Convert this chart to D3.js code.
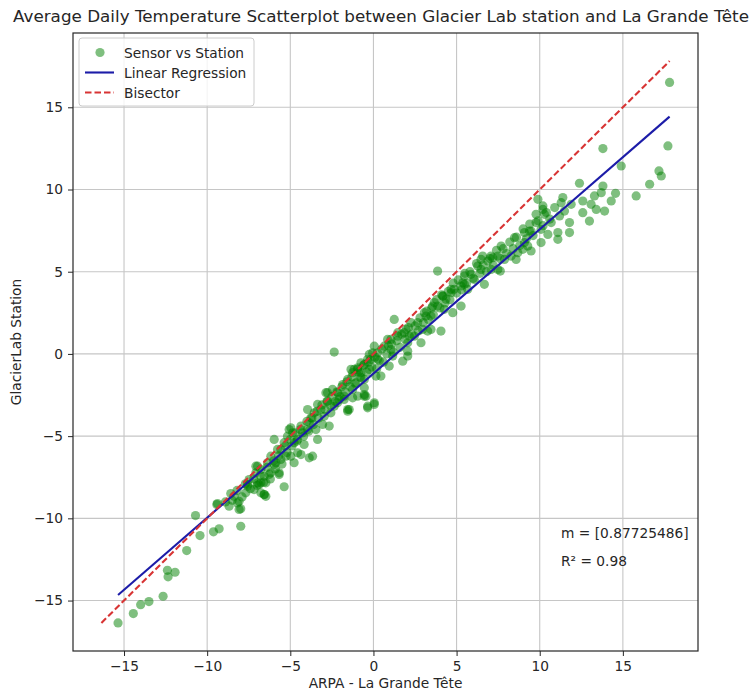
<!DOCTYPE html>
<html>
<head>
<meta charset="utf-8">
<script src="https://cdn.jsdelivr.net/npm/d3@7"></script>
<style>
  html, body { margin: 0; padding: 0; background: #fff; }
  svg { display: block; font-family: "DejaVu Sans", sans-serif; }
</style>
</head>
<body>
<div id="chart"></div>
<script>
// ARPA - La Grande Tête (x) vs GlacierLab station (y), daily means
const arpa = [
  -15.36, -14.44, -14.0, -13.5, -12.65, -12.39, -12.35, -11.93, -11.23, -10.43,
  -9.62, -9.28, -7.98, -10.70, -9.42, -8.68, -8.08, -8.58, -8.18, -7.68,
  -7.18, -6.57, -5.37, -6.88, -6.47, -7.57, -7.98, -6.77, -6.57, -6.27,
  -5.67, -7.07, -5.97, -4.97, -4.36, -4.77, -5.57, -3.86, -9.38, -8.08,
  -7.57, -6.97, -6.77, -6.47, -6.97, -6.57, -6.17, -5.87, -5.67, -5.97,
  -5.57, -5.27, -5.07, -4.77, -4.56, -4.26, -4.17, -3.66, -3.96, -3.86,
  -3.46, -3.36, -3.36, -2.96, -2.86, -2.66, -2.46, -2.36, -2.06, -1.85,
  -1.55, -1.25, -1.05, -0.95, -0.55, -0.35, 0.05, -0.75, -0.55, -0.15,
  0.15, -2.36, -1.76, -1.46, -1.25, -0.55, -0.35, 0.05, -1.16, -0.55,
  0.45, 0.95, 1.76, 2.06, 2.86, 1.05, 0.25, -0.35, -0.05, 1.46,
  3.26, 4.06, 2.16, -4.97, -2.76, -2.16, -1.55, -1.35, -0.75, -0.45,
  1.25, 1.85, 2.06, 3.06, 3.56, 3.86, 4.17, 4.67, 5.27, 5.47,
  5.87, 6.67, 6.47, 7.07, 7.48, -0.95, 0.05, 0.85, 1.16, 2.26,
  2.46, 3.16, 3.46, 3.86, 4.36, 4.77, 4.67, 5.37, 5.67, 6.27,
  6.57, 7.18, 7.68, 7.63, 7.88, 8.48, 8.58, 8.98, 9.08, 9.48,
  9.78, 9.89, 10.19, 10.08, 9.48, 17.81, 17.71, 13.80, 14.90, 17.17,
  17.31, 16.61, 15.80, 14.56, 14.30, 13.80, 13.70, 13.29, 13.09, 13.40,
  13.90, 12.99, 12.59, 12.59, 12.39, 11.89, 11.39, 11.29, 11.19, 11.49,
  11.79, 11.09, 11.09, 10.19, 10.28, 9.78, 10.08, 9.38, 9.08, 10.49,
  11.79, 10.69, -8.38, -7.48, -7.07, -6.77, -6.37, -6.17, -5.77, -5.37,
  -5.17, -4.86, -4.56, -4.36, -3.96, -3.76, -3.56, -3.16, -3.06, -2.76,
  -2.56, -2.16, -1.76, -1.55, -1.25, -0.95, -0.55, -0.25, -0.75, -0.25,
  0.25, 0.65, 1.05, 1.46, 1.96, 2.06, 2.66, 2.96, 3.46, 3.66,
  4.17, 4.26, 4.86, 5.27, 5.47, 6.07, 6.47, 6.88, 7.07, 7.48,
  8.28, 8.68, 9.28,
  -8.9, -8.5, -8.2, -7.9, -7.7, -7.4, -7.2, -7.0, -6.8, -6.6,
  -6.4, -6.2, -6.0, -5.9, -5.7, -5.5, -5.3, -5.2, -5.0, -4.9,
  -4.7, -4.6, -4.4, -4.2, -4.0, -3.9, -3.7, -3.6, -3.4, -3.3,
  -3.1, -2.9, -2.8, -2.6, -2.5, -2.3, -2.2, -2.0, -1.9, -1.7,
  -1.6, -1.4, -1.3, -1.1, -0.9, -0.8, -0.6, -0.4, -0.3, -0.1,
  0.1, 0.2, 0.35, 0.5, 0.6, 0.8, 0.9, 1.1, 1.2, 1.4,
  1.6, 1.7, 1.9, 2.1, 2.3, 2.5, 2.7, 2.8, 3.0, 3.2,
  3.3, 3.5, 3.6, 3.8, 4.0, 4.1, 4.3, 4.5, 4.6, 4.8,
  5.0, 5.1, 5.3, 5.5, 5.6, 5.8, 6.0, 6.2, 6.4, 6.6,
  6.8, 7.0, 7.2, 7.4, 7.6, 7.8, 8.0, 8.2, 8.4, 8.6,
  8.8, 9.0, 9.2, 9.4, 9.6, 9.9, 10.2, 10.4, 10.6, 10.9
];
const station = [
  -16.36, -15.79, -15.25, -15.06, -14.74, -13.16, -13.56, -13.28, -11.96, -11.05,
  -10.82, -10.64, -10.48, -9.83, -9.16, -9.26, -9.46, -8.49, -9.06, -8.45,
  -8.25, -8.55, -8.08, -7.94, -7.84, -7.94, -9.42, -7.84, -8.55, -7.33,
  -7.23, -6.83, -6.73, -6.22, -6.12, -6.62, -6.42, -6.32, -9.10, -8.96,
  -8.05, -7.84, -8.45, -8.66, -6.83, -7.44, -7.23, -6.62, -7.33, -5.20,
  -5.81, -6.22, -4.60, -5.40, -6.01, -4.80, -5.51, -6.22, -3.38, -4.19,
  -4.60, -5.20, -3.07, -3.79, -2.36, -4.39, -2.16, -3.18, -2.77, -1.86,
  -3.38, -1.14, -1.75, -2.57, -2.47, -3.18, -2.97, -1.14, -0.64, -0.33,
  -1.35, 0.11, -2.77, -3.38, -2.67, -2.57, -3.28, -3.07, -0.94, -2.06,
  -1.35, -0.74, -0.44, 0.17, 0.68, 0.88, -0.33, -0.33, 0.07, 1.29,
  1.39, 1.39, 1.08, -4.49, -2.36, -2.97, -3.48, -0.94, -1.45, -2.57,
  2.10, 1.29, -0.13, 2.51, 2.91, 5.04, 3.52, 3.72, 2.91, 4.23,
  4.84, 4.23, 5.75, 5.95, 5.14, -0.94, 0.47, 0.88, -0.13, 1.90,
  1.08, 2.30, 1.49, 2.91, 3.32, 2.51, 3.93, 4.33, 3.93, 5.34,
  5.95, 5.85, 6.56, 5.04, 5.75, 7.07, 5.75, 6.36, 7.38, 6.26,
  8.49, 9.40, 8.79, 6.77, 7.47, 16.51, 12.65, 12.49, 11.43, 11.13,
  10.82, 10.32, 9.61, 9.77, 9.30, 10.21, 9.81, 9.61, 9.10, 8.79,
  8.69, 8.08, 8.59, 9.30, 10.38, 9.10, 9.51, 9.20, 8.39, 8.69,
  7.38, 7.38, 6.97, 9.00, 8.49, 7.99, 7.58, 7.47, 6.77, 7.27,
  7.99, 7.99, -8.66, -7.64, -7.23, -7.03, -6.62, -6.22, -5.81, -5.40,
  -5.00, -4.80, -5.20, -4.39, -4.60, -3.88, -3.58, -3.38, -4.29, -2.87,
  -3.58, -2.36, -2.57, -1.55, -2.16, -0.84, -1.55, -0.94, -0.54, -0.03,
  0.07, 0.47, 0.27, 1.08, 1.49, 0.68, 1.90, 1.49, 2.30, 3.12,
  3.52, 2.71, 3.93, 4.13, 4.74, 4.53, 5.14, 5.65, 5.14, 5.95,
  5.95, 6.16, 6.56,
  -9.0, -8.9, -8.3, -8.7, -7.9, -8.2, -7.6, -8.0, -7.4, -7.8,
  -6.9, -7.6, -6.5, -7.0, -6.2, -6.7, -5.6, -6.0, -5.2, -5.6,
  -4.8, -5.3, -4.6, -5.0, -4.1, -4.7, -3.9, -4.3, -3.5, -3.9,
  -3.1, -3.4, -2.9, -3.1, -2.6, -2.9, -2.3, -2.6, -2.0, -2.3,
  -1.7, -2.0, -1.4, -1.8, -1.1, -1.4, -0.7, -1.1, -0.5, -0.8,
  -0.2, -0.9, -0.4, 0.3, -0.5, 0.0, 0.5, 0.6, 0.1, 0.8,
  0.4, 1.2, 0.9, 1.6, 1.2, 1.7, 1.4, 2.2, 1.9, 2.6,
  2.1, 2.8, 2.4, 3.3, 2.8, 3.6, 3.1, 3.8, 3.3, 4.3,
  3.7, 4.5, 3.9, 4.9, 4.3, 5.0, 4.6, 5.5, 4.9, 5.4,
  5.0, 5.8, 5.4, 6.3, 5.8, 6.4, 6.1, 6.8, 6.4, 7.1,
  6.6, 7.6, 7.0, 7.9, 7.2, 8.1, 7.8, 8.6, 8.2, 8.9
];

const slope = 0.87725486;
const intercept = -1.19;
const r2 = 0.98;

const xTicks = [-15, -10, -5, 0, 5, 10, 15];
const yTicks = [-15, -10, -5, 0, 5, 10, 15];
const legendLabels = ["Sensor vs Station", "Linear Regression", "Bisector"];

const width = 753, height = 695;
const margin = {top: 33, right: 55, bottom: 44, left: 73};
const fs = 13.75;
const ink = "#262626";

const points = arpa.map((x, i) => ({x, y: station[i]}));

// bisector runs over the full range of both series, regression over x only
const lo = Math.min(d3.min(arpa), d3.min(station));
const hi = Math.max(d3.max(arpa), d3.max(station));
const pad = (hi - lo) * 0.05;

const x = d3.scaleLinear().domain([lo - pad, hi + pad]).range([margin.left, width - margin.right]);
const y = d3.scaleLinear().domain([lo - pad, hi + pad]).range([height - margin.bottom, margin.top]);

const svg = d3.select("#chart").append("svg")
    .attr("width", width)
    .attr("height", height);

svg.append("text")
    .attr("x", 381)
    .attr("y", 22)
    .attr("text-anchor", "middle")
    .attr("font-size", 16.5)
    .attr("textLength", 736)
    .attr("lengthAdjust", "spacingAndGlyphs")
    .attr("fill", ink)
    .text("Average Daily Temperature Scatterplot between Glacier Lab station and La Grande Tête");

// grid
svg.append("g")
    .attr("stroke", "#c6c6c6")
    .attr("stroke-width", 1.1)
    .call(g => g.selectAll("line.v").data(xTicks).join("line")
        .attr("x1", d => x(d)).attr("x2", d => x(d))
        .attr("y1", margin.top).attr("y2", height - margin.bottom))
    .call(g => g.selectAll("line.h").data(yTicks).join("line")
        .attr("x1", margin.left).attr("x2", width - margin.right)
        .attr("y1", d => y(d)).attr("y2", d => y(d)));

// points
svg.append("g")
    .selectAll("circle")
    .data(points)
    .join("circle")
    .attr("cx", d => x(d.x))
    .attr("cy", d => y(d.y))
    .attr("r", 4.6)
    .attr("fill", "green")
    .attr("fill-opacity", 0.5);

const line = d3.line().x(d => x(d[0])).y(d => y(d[1]));
const xr = d3.extent(arpa);

svg.append("path")
    .datum(xr.map(v => [v, slope * v + intercept]))
    .attr("d", line)
    .attr("fill", "none")
    .attr("stroke", "#1c1ca8")
    .attr("stroke-width", 2.1);

svg.append("path")
    .datum([[lo, lo], [hi, hi]])
    .attr("d", line)
    .attr("fill", "none")
    .attr("stroke", "#d83434")
    .attr("stroke-width", 2.1)
    .attr("stroke-dasharray", "6.5,3");

// frame + axes
svg.append("rect")
    .attr("x", margin.left).attr("y", margin.top)
    .attr("width", width - margin.left - margin.right)
    .attr("height", height - margin.top - margin.bottom)
    .attr("fill", "none")
    .attr("stroke", ink)
    .attr("stroke-width", 1.2);

const xAxis = svg.append("g")
    .attr("transform", `translate(0,${height - margin.bottom})`)
    .call(d3.axisBottom(x).tickValues(xTicks).tickSize(5).tickPadding(5));
const yAxis = svg.append("g")
    .attr("transform", `translate(${margin.left},0)`)
    .call(d3.axisLeft(y).tickValues(yTicks).tickSize(5).tickPadding(5));

[xAxis, yAxis].forEach(a => {
  a.select(".domain").remove();
  a.selectAll("line").attr("stroke", ink);
  a.selectAll("text").attr("font-size", fs).attr("fill", ink)
      .attr("font-family", "DejaVu Sans, sans-serif");
});

svg.append("text")
    .attr("x", (margin.left + width - margin.right) / 2)
    .attr("y", 688)
    .attr("text-anchor", "middle")
    .attr("font-size", fs)
    .attr("fill", ink)
    .text("ARPA - La Grande Tête");

svg.append("text")
    .attr("transform", `translate(21,${(margin.top + height - margin.bottom) / 2}) rotate(-90)`)
    .attr("text-anchor", "middle")
    .attr("font-size", fs)
    .attr("fill", ink)
    .text("GlacierLab Station");

// stats
svg.append("text")
    .attr("x", 561).attr("y", 538)
    .attr("font-size", fs).attr("fill", ink)
    .text(`m = [${slope}]`);
svg.append("text")
    .attr("x", 561).attr("y", 566)
    .attr("font-size", fs).attr("fill", ink)
    .text(`R² = ${r2}`);

// legend
const legend = svg.append("g").attr("transform", "translate(79,38)");
legend.append("rect")
    .attr("width", 175).attr("height", 68)
    .attr("rx", 3)
    .attr("fill", "#fff").attr("fill-opacity", 0.8)
    .attr("stroke", "#ccc");

const rows = legend.selectAll("g.row")
    .data(legendLabels)
    .join("g")
    .attr("transform", (d, i) => `translate(0,${14.5 + i * 20})`);

rows.append("text")
    .attr("x", 45).attr("y", 5)
    .attr("font-size", fs).attr("fill", ink)
    .text(d => d);

rows.filter((d, i) => i === 0).append("circle")
    .attr("cx", 21).attr("r", 4.6)
    .attr("fill", "green").attr("fill-opacity", 0.5);
rows.filter((d, i) => i === 1).append("line")
    .attr("x1", 6).attr("x2", 35)
    .attr("stroke", "#1c1ca8").attr("stroke-width", 2.1);
rows.filter((d, i) => i === 2).append("line")
    .attr("x1", 6).attr("x2", 35)
    .attr("stroke", "#d83434").attr("stroke-width", 2.1)
    .attr("stroke-dasharray", "6.5,3");
</script>
</body>
</html>
